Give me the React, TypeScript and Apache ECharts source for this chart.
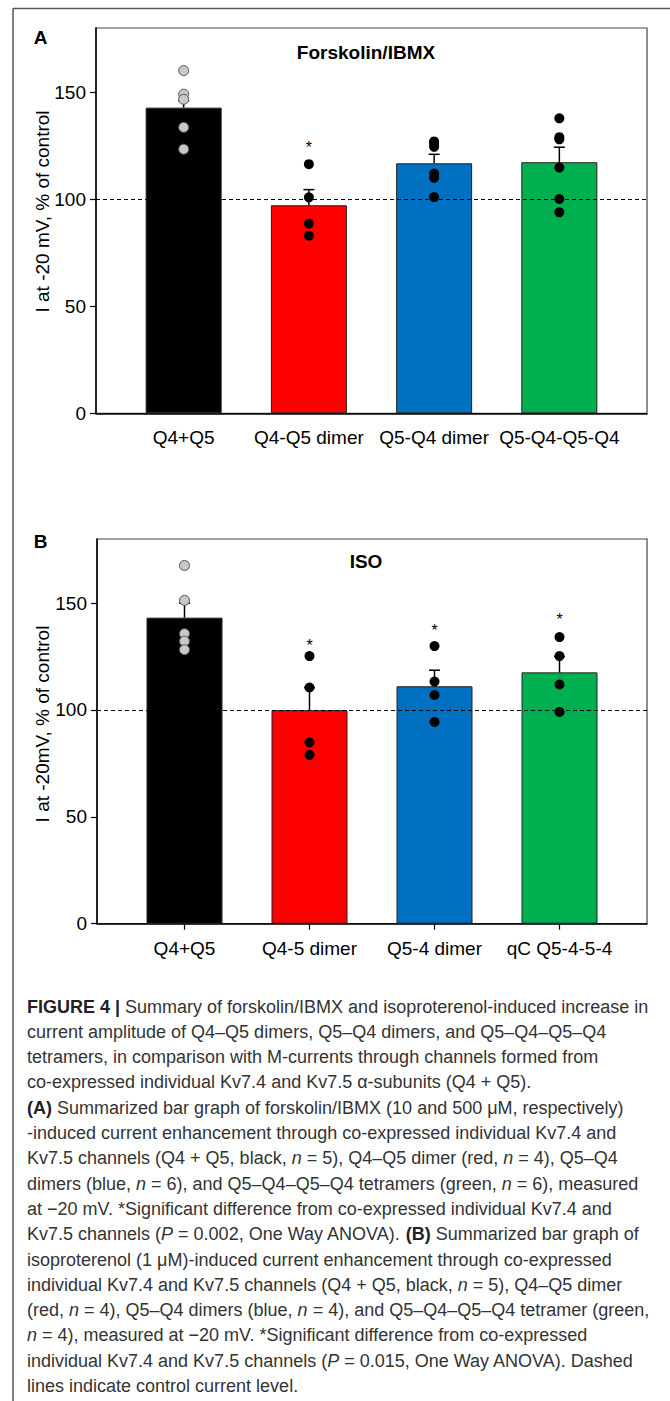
import React, { useEffect, useRef } from "react";
import * as echarts from "echarts";

const FONT = "'Liberation Sans', Arial, Helvetica, sans-serif";

const barColors = ["#000000", "#ff0000", "#0070c0", "#00b050"];
const tickValuesY = [0, 50, 100, 150];
const controlLevel = 100;

const categoriesA = ["Q4+Q5", "Q4-Q5 dimer", "Q5-Q4 dimer", "Q5-Q4-Q5-Q4"];
const meansA = [142.8, 97.2, 116.8, 117.3];
const semsA = [3.2, 7.3, 4.2, 7.0];
const pointsA0 = [160.1, 149.1, 146.7, 133.6, 123.4];
const pointsA1 = [116.4, 100.9, 88.6, 83.0];
const pointsA2 = [127.0, 126.0, 124.5, 112.0, 110.0, 101.0];
const pointsA3 = [137.8, 129.0, 128.0, 114.8, 100.1, 93.9];
const starsA = [null, 126.2, null, null];

const categoriesB = ["Q4+Q5", "Q4-5 dimer", "Q5-4 dimer", "qC Q5-4-5-4"];
const meansB = [143.2, 99.9, 111.1, 117.6];
const semsB = [6.8, 10.6, 7.5, 7.4];
const pointsB0 = [167.6, 151.3, 135.7, 132.2, 128.2];
const pointsB1 = [125.2, 110.5, 84.8, 79.0];
const pointsB2 = [129.9, 113.3, 107.0, 94.4];
const pointsB3 = [134.1, 125.2, 111.9, 99.1];
const starsB = [null, 132.1, 139.1, 144.1];

const captionLines = [
  "{b|FIGURE 4 |} Summary of forskolin/IBMX and isoproterenol-induced increase in",
  "current amplitude of Q4–Q5 dimers, Q5–Q4 dimers, and Q5–Q4–Q5–Q4",
  "tetramers, in comparison with M-currents through channels formed from",
  "co-expressed individual Kv7.4 and Kv7.5 α-subunits (Q4 + Q5).",
  "{b|(A)} Summarized bar graph of forskolin/IBMX (10 and 500 μM, respectively)",
  "-induced current enhancement through co-expressed individual Kv7.4 and",
  "Kv7.5 channels (Q4 + Q5, black, {i|n} = 5), Q4–Q5 dimer (red, {i|n} = 4), Q5–Q4",
  "dimers (blue, {i|n} = 6), and Q5–Q4–Q5–Q4 tetramers (green, {i|n} = 6), measured",
  "at −20 mV. *Significant difference from co-expressed individual Kv7.4 and",
  "Kv7.5 channels ({i|P} = 0.002, One Way ANOVA). {b|(B)} Summarized bar graph of",
  "isoproterenol (1 μM)-induced current enhancement through co-expressed",
  "individual Kv7.4 and Kv7.5 channels (Q4 + Q5, black, {i|n} = 5), Q4–Q5 dimer",
  "(red, {i|n} = 4), Q5–Q4 dimers (blue, {i|n} = 4), and Q5–Q4–Q5–Q4 tetramer (green,",
  "{i|n} = 4), measured at −20 mV. *Significant difference from co-expressed",
  "individual Kv7.4 and Kv7.5 channels ({i|P} = 0.015, One Way ANOVA). Dashed",
  "lines indicate control current level.",
];

function panel(gi: number, cats: string[], means: number[], sems: number[], pts: number[][], stars: (number | null)[]) {
  const axes = {
    x: {
      type: "value",
      gridIndex: gi,
      min: -0.7,
      max: 3.7,
      axisLine: { show: true, onZero: false, lineStyle: { color: "#000", width: 1.5 } },
      axisTick: { show: gi === 1, customValues: [0, 1, 2, 3], length: 6, lineStyle: { color: "#000", width: 1.2 } },
      axisLabel: {
        customValues: [0, 1, 2, 3],
        formatter: (v: number) => cats[Math.round(v)] ?? "",
        fontSize: 19,
        fontFamily: FONT,
        color: "#000",
        margin: 15,
      },
      splitLine: { show: false },
    },
    y: {
      type: "value",
      gridIndex: gi,
      min: 0,
      max: 180,
      axisLine: { show: true, onZero: false, lineStyle: { color: "#000", width: 1.5 } },
      axisTick: { show: true, customValues: tickValuesY, length: 6, lineStyle: { color: "#000", width: 1.2 } },
      axisLabel: { customValues: tickValuesY, fontSize: 19, fontFamily: FONT, color: "#000", margin: 10 },
      splitLine: { show: false },
    },
  };
  const series: any[] = [];
  series.push({
    type: "bar",
    xAxisIndex: gi,
    yAxisIndex: gi,
    barWidth: 76,
    z: 2,
    data: means.map((m, i) => ({ value: [i, m], itemStyle: { color: barColors[i] } })),
    itemStyle: { borderColor: "#222", borderWidth: 1 },
    markLine: {
      silent: true,
      symbol: ["none", "none"],
      label: { show: false },
      lineStyle: { type: [4, 3], color: "#000", width: 1 },
      data: [{ yAxis: controlLevel }],
      z: 5,
    },
  });
  series.push({
    type: "custom",
    xAxisIndex: gi,
    yAxisIndex: gi,
    z: 6,
    encode: { x: 0, y: [1, 2] },
    data: means.map((m, i) => [i, m, m + sems[i]]),
    renderItem: (_p: any, api: any) => {
      const x = api.value(0);
      const p0 = api.coord([x, api.value(1)]);
      const p1 = api.coord([x, api.value(2)]);
      const hw = 5.5;
      return {
        type: "group",
        children: [
          { type: "line", shape: { x1: p0[0], y1: p0[1], x2: p1[0], y2: p1[1] }, style: { stroke: "#000", lineWidth: 1.5 } },
          { type: "line", shape: { x1: p1[0] - hw, y1: p1[1], x2: p1[0] + hw, y2: p1[1] }, style: { stroke: "#000", lineWidth: 1.5 } },
        ],
      };
    },
  });
  pts.forEach((arr, i) => {
    series.push({
      type: "scatter",
      xAxisIndex: gi,
      yAxisIndex: gi,
      z: 10,
      symbolSize: 10,
      data: arr.map((v) => [i, v]),
      itemStyle:
        i === 0
          ? { color: "#c8c8c8", borderColor: "#555", borderWidth: 1, opacity: 1 }
          : { color: "#000", opacity: 1 },
    });
  });
  series.push({
    type: "custom",
    xAxisIndex: gi,
    yAxisIndex: gi,
    z: 10,
    encode: { x: 0, y: 1 },
    data: stars.map((s, i) => (s == null ? null : [i, s])).filter((d) => d !== null),
    renderItem: (_p: any, api: any) => {
      const p = api.coord([api.value(0), api.value(1)]);
      return {
        type: "text",
        x: p[0],
        y: p[1] + 4,
        style: { text: "*", fontSize: 16, fontFamily: FONT, fill: "#000", align: "center", verticalAlign: "middle" },
      };
    },
  });
  return { axes, series };
}

export default function App() {
  const ref = useRef<HTMLDivElement>(null);
  useEffect(() => {
    document.body.style.margin = "0";
    if (!ref.current) return;
    const chart = echarts.init(ref.current, null, { renderer: "svg" });
    const a = panel(0, categoriesA, meansA, semsA, [pointsA0, pointsA1, pointsA2, pointsA3], starsA);
    const b = panel(1, categoriesB, meansB, semsB, [pointsB0, pointsB1, pointsB2, pointsB3], starsB);

    const textStyle = (extra: any) => ({
      fontFamily: FONT,
      fill: "#000",
      align: "center",
      verticalAlign: "middle",
      textAlign: "center",
      textVerticalAlign: "middle",
      ...extra,
    });

    const graphics: any[] = [
      { type: "line", shape: { x1: 13, y1: 8.5, x2: 670, y2: 8.5 }, style: { stroke: "#555", lineWidth: 1.5 } },
      { type: "line", shape: { x1: 13, y1: 8.5, x2: 13, y2: 1401 }, style: { stroke: "#555", lineWidth: 1.5 } },
      { type: "text", x: 40.5, y: 37, style: textStyle({ text: "A", fontSize: 19, fontWeight: "bold" }) },
      { type: "text", x: 40.5, y: 541, style: textStyle({ text: "B", fontSize: 19, fontWeight: "bold" }) },
      { type: "text", x: 366, y: 52, style: textStyle({ text: "Forskolin/IBMX", fontSize: 19, fontWeight: "bold" }) },
      { type: "text", x: 366, y: 561, style: textStyle({ text: "ISO", fontSize: 19, fontWeight: "bold" }) },
      { type: "text", x: 42.5, y: 211.5, rotation: Math.PI / 2, style: textStyle({ text: "I at -20 mV, % of control", fontSize: 19 }) },
      { type: "text", x: 42.5, y: 724, rotation: Math.PI / 2, style: textStyle({ text: "I at -20mV, % of control", fontSize: 19 }) },
    ];
    const capBase = { fontFamily: FONT, fontSize: 18, fill: "#333" };
    captionLines.forEach((line, k) => {
      graphics.push({
        type: "text",
        x: 27,
        y: 1006.5 + k * 25.3,
        style: {
          text: line,
          ...capBase,
          align: "left",
          verticalAlign: "middle",
          textAlign: "left",
          textVerticalAlign: "middle",
          rich: {
            b: { ...capBase, fontWeight: "bold", fill: "#222" },
            i: { ...capBase, fontStyle: "italic" },
          },
        },
      });
    });

    chart.setOption({
      animation: false,
      backgroundColor: "#fff",
      grid: [
        { left: 96, top: 28, width: 551, height: 385.3, show: true, borderColor: "#444", borderWidth: 1.2, backgroundColor: "transparent" },
        { left: 97, top: 539, width: 550, height: 384.7, show: true, borderColor: "#444", borderWidth: 1.2, backgroundColor: "transparent" },
      ],
      xAxis: [a.axes.x, b.axes.x],
      yAxis: [a.axes.y, b.axes.y],
      series: [...a.series, ...b.series],
      graphic: graphics,
    });
    return () => chart.dispose();
  }, []);
  return <div ref={ref} style={{ width: 670, height: 1401 }} />;
}
